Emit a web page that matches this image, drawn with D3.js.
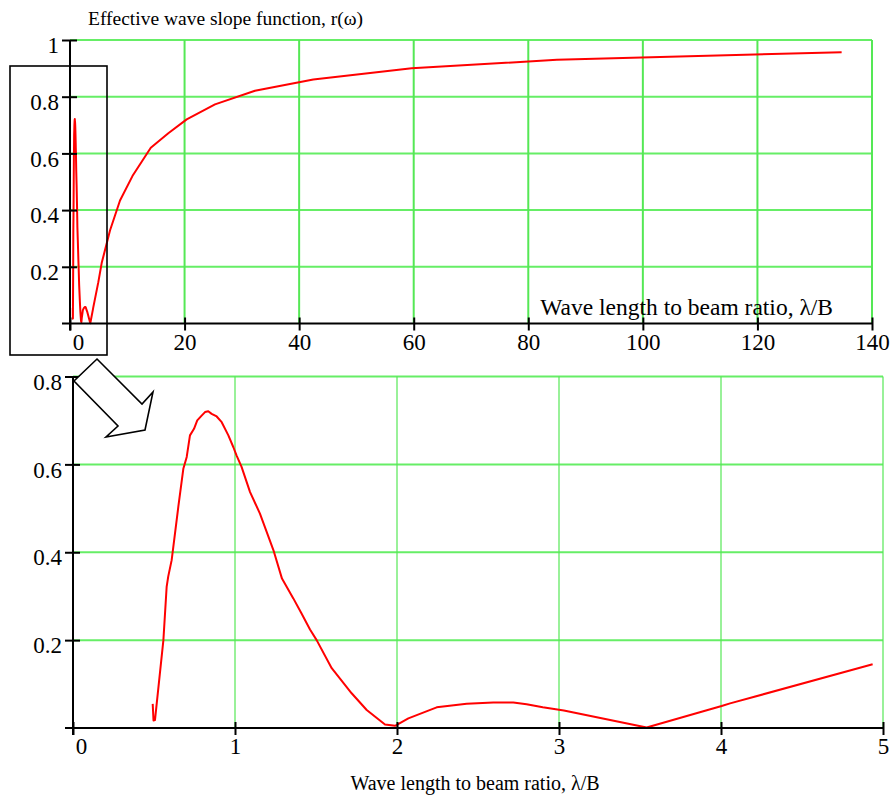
<!DOCTYPE html>
<html>
<head>
<meta charset="utf-8">
<script src="https://cdn.jsdelivr.net/npm/d3@7/dist/d3.min.js"></script>
<style>
    body { margin: 0; background: #fff; }
    svg { display: block; }
    .lbl { font-family: "Liberation Serif", "Times New Roman", serif; fill: #000; }
    .tick-lbl { font-size: 23px; }
</style>
</head>
<body>
<svg id="chart" width="896" height="801"></svg>
<script>
// wave length to beam ratio (λ/B) and effective wave slope r(ω)
const lambdaB = [
    0.492, 0.497, 0.506, 0.558, 0.578, 0.588, 0.609, 0.65, 0.681, 0.702,
    0.722, 0.747, 0.767, 0.794, 0.815, 0.835, 0.856, 0.887, 0.918, 0.959,
    0.99, 1.01, 1.04, 1.093, 1.154, 1.237, 1.29, 1.36, 1.41, 1.463,
    1.504, 1.597, 1.72, 1.813, 1.926, 1.988, 2.07, 2.245, 2.43, 2.594,
    2.718, 2.8, 2.9, 3.03, 3.541, 4.004, 4.056, 4.936, 5.53, 6.98,
    8.73, 10.9, 14.1, 17.16, 20.37, 25.31, 32.29, 42.47, 59.65, 85,
    134.7
]
const slope = [
    0.055, 0.017, 0.018, 0.2, 0.321, 0.345, 0.382, 0.503, 0.59, 0.617,
    0.666, 0.681, 0.7, 0.711, 0.719, 0.721, 0.715, 0.709, 0.696, 0.666,
    0.639, 0.62, 0.595, 0.537, 0.488, 0.405, 0.34, 0.295, 0.261, 0.224,
    0.2, 0.136, 0.079, 0.041, 0.008, 0.005, 0.022, 0.047, 0.055, 0.058,
    0.058, 0.054, 0.047, 0.04, 0.001, 0.05, 0.056, 0.145, 0.213, 0.328,
    0.434, 0.52, 0.62, 0.671, 0.72, 0.773, 0.821, 0.861, 0.9, 0.93,
    0.957
]

const topXTicks = [0, 20, 40, 60, 80, 100, 120, 140]
const topYTicks = [0.2, 0.4, 0.6, 0.8, 1]
const botXTicks = [0, 1, 2, 3, 4, 5]
const botYTicks = [0.2, 0.4, 0.6, 0.8]

const chartTitle = 'Effective wave slope function, r(ω)'
const xTitle = 'Wave length to beam ratio, λ/B'

const points = lambdaB.map((x, i) => ({ x, y: slope[i] }))

const svg = d3.select('#chart')

function drawPanel(opts) {
    const { x, y, xTicks, yTicks, data, gridW } = opts
    const g = svg.append('g')
    const [x0, x1] = x.range()
    const [y0, y1] = y.range()

    // grid
    const grid = g.append('g')
    grid.selectAll('line.gy')
        .data(yTicks)
        .join('line')
        .attr('x1', x0).attr('x2', x1)
        .attr('y1', d => y(d)).attr('y2', d => y(d))
        .attr('stroke', '#66ee66').attr('stroke-width', 2)
    grid.selectAll('line.gx')
        .data(xTicks.filter(d => d > 0))
        .join('line')
        .attr('x1', d => x(d)).attr('x2', d => x(d))
        .attr('y1', y0).attr('y2', y1)
        .attr('stroke', '#55e855').attr('stroke-width', gridW)

    // curve
    const line = d3.line().x(d => x(d.x)).y(d => y(d.y))
    g.append('path')
        .datum(data)
        .attr('d', line)
        .attr('fill', 'none')
        .attr('stroke', '#ff0000')
        .attr('stroke-width', 2)
        .attr('stroke-linejoin', 'round')

    // x axis
    const xAxis = g.append('g')
        .attr('transform', `translate(0,${y0})`)
        .call(d3.axisBottom(x).tickValues(xTicks).tickFormat(d => String(d)).tickSize(0).tickPadding(10))
    xAxis.select('.domain').remove()
    xAxis.append('line')
        .attr('x1', x0 - 8).attr('x2', x1)
        .attr('stroke', '#000').attr('stroke-width', 2)
    xAxis.selectAll('.tick line')
        .attr('y1', -6).attr('y2', 7)
        .attr('stroke', '#000').attr('stroke-width', 2)
    xAxis.selectAll('.tick text')
        .attr('class', 'lbl tick-lbl')
        .attr('dx', d => d === 0 ? 8 : 0)
    xAxis.attr('font-size', null).attr('font-family', null)

    // y axis
    const yAxis = g.append('g')
        .attr('transform', `translate(${x0},0)`)
        .call(d3.axisLeft(y).tickValues(yTicks).tickFormat(d => String(d)).tickSize(0).tickPadding(11))
    yAxis.select('.domain').remove()
    yAxis.append('line')
        .attr('y1', y1).attr('y2', y0 + 7)
        .attr('stroke', '#000').attr('stroke-width', 2)
    yAxis.selectAll('.tick line')
        .attr('x1', -8).attr('x2', 7)
        .attr('stroke', '#000').attr('stroke-width', 2)
    yAxis.selectAll('.tick text')
        .attr('class', 'lbl tick-lbl')
        .attr('dy', '0.55em')
    yAxis.attr('font-size', null).attr('font-family', null)
}

// top panel: full range
const xTop = d3.scaleLinear().domain([0, 140]).range([70, 872])
const yTop = d3.scaleLinear().domain([0, 1]).range([323.5, 40])
drawPanel({ x: xTop, y: yTop, xTicks: topXTicks, yTicks: topYTicks, data: points, gridW: 2 })

// bottom panel: zoom on 0..5
const xBot = d3.scaleLinear().domain([0, 5]).range([73, 883])
const yBot = d3.scaleLinear().domain([0, 0.8]).range([728, 376.5])
drawPanel({ x: xBot, y: yBot, xTicks: botXTicks, yTicks: botYTicks, data: points.filter(p => p.x <= 5), gridW: 1.2 })

// titles
svg.append('text').attr('class', 'lbl')
    .attr('x', 88).attr('y', 25)
    .attr('font-size', 19.5)
    .text(chartTitle)
svg.append('text').attr('class', 'lbl')
    .attr('x', 833).attr('y', 315)
    .attr('text-anchor', 'end')
    .attr('font-size', 23.5)
    .text(xTitle)
svg.append('text').attr('class', 'lbl')
    .attr('x', 475).attr('y', 790)
    .attr('text-anchor', 'middle')
    .attr('font-size', 20)
    .text(xTitle)

// zoom box round the 0..5 part of the top panel, and the arrow down to the bottom panel
svg.append('rect')
    .attr('x', 10).attr('y', 66)
    .attr('width', 97).attr('height', 289)
    .attr('fill', 'none').attr('stroke', '#000').attr('stroke-width', 1.6)

const arrowPts = [[97, 359], [142, 404], [153, 392], [145, 430], [106, 437], [118, 426], [74, 381]]
svg.append('polygon')
    .attr('points', arrowPts.map(p => p.join(',')).join(' '))
    .attr('fill', '#fff').attr('stroke', '#000').attr('stroke-width', 1.6)
    .attr('stroke-linejoin', 'miter')
</script>
</body>
</html>
